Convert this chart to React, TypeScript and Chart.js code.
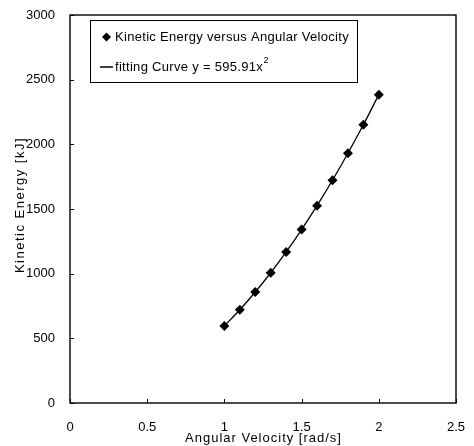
import React, { useEffect, useRef } from "react";
import { Chart, registerables } from "chart.js";

Chart.register(...registerables);

const angularVelocity = [1.0, 1.1, 1.2, 1.3, 1.4, 1.5, 1.6, 1.7, 1.8, 1.9, 2.0];
const kineticEnergy = [596, 721, 858, 1007, 1168, 1341, 1526, 1722, 1931, 2151, 2384];
const xTicks = [0, 0.5, 1, 1.5, 2, 2.5];
const yTicks = [0, 500, 1000, 1500, 2000, 2500, 3000];
const legendPoints = "Kinetic Energy versus Angular Velocity";
const legendCurve = "fitting Curve y = 595.91x";
const xTitle = "Angular Velocity [rad/s]";
const yTitle = "Kinetic Energy [kJ]";

const FONT = "'Liberation Sans', Arial, sans-serif";

const framePlugin = {
  id: "frameAndLegend",
  afterDraw(chart: any) {
    const { ctx, chartArea } = chart;
    const { left, right, top, bottom } = chartArea;
    const xs = chart.scales.x;
    const ys = chart.scales.y;
    ctx.save();
    ctx.strokeStyle = "#000";
    ctx.lineWidth = 1.4;
    ctx.strokeRect(left, top, right - left, bottom - top);
    ctx.lineWidth = 1;
    ctx.beginPath();
    xTicks.forEach((v) => {
      const px = Math.round(xs.getPixelForValue(v)) + 0.5;
      ctx.moveTo(px, bottom);
      ctx.lineTo(px, bottom - 4);
    });
    yTicks.forEach((v) => {
      const py = Math.round(ys.getPixelForValue(v)) + 0.5;
      ctx.moveTo(left, py);
      ctx.lineTo(left + 4, py);
    });
    ctx.stroke();

    // axis titles
    ctx.fillStyle = "#000";
    ctx.textBaseline = "middle";
    ctx.textAlign = "center";
    ctx.font = "13px " + FONT;
    (ctx as any).letterSpacing = "1px";
    ctx.fillText(xTitle, (left + right) / 2 + 0.5, 438);
    ctx.save();
    ctx.translate(20, 205);
    ctx.rotate(-Math.PI / 2);
    (ctx as any).letterSpacing = "1.5px";
    ctx.fillText(yTitle, 0, 0);
    ctx.restore();

    // legend box
    const bx = 90, by = 20, bw = 267, bh = 62;
    ctx.fillStyle = "#fff";
    ctx.fillRect(bx, by, bw, bh);
    ctx.lineWidth = 1;
    ctx.strokeRect(bx + 0.5, by + 0.5, bw, bh);
    const r1 = 37, r2 = 67;
    ctx.fillStyle = "#000";
    ctx.beginPath();
    ctx.moveTo(106.5, r1 - 4.5);
    ctx.lineTo(111, r1);
    ctx.lineTo(106.5, r1 + 4.5);
    ctx.lineTo(102, r1);
    ctx.closePath();
    ctx.fill();
    ctx.font = "13px " + FONT;
    (ctx as any).letterSpacing = "0.3px";
    ctx.textAlign = "left";
    ctx.fillText(legendPoints, 115, r1);
    ctx.lineWidth = 1.5;
    ctx.beginPath();
    ctx.moveTo(100, r2);
    ctx.lineTo(113, r2);
    ctx.stroke();
    ctx.fillText(legendCurve, 115, r2);
    const w = ctx.measureText(legendCurve).width;
    ctx.font = "9px " + FONT;
    (ctx as any).letterSpacing = "0px";
    ctx.fillText("2", 115 + w + 0.5, r2 - 6);
    ctx.restore();
  },
};

export default function App() {
  const ref = useRef<HTMLCanvasElement>(null);
  useEffect(() => {
    document.body.style.margin = "0";
    const canvas = ref.current!;
    const chart = new Chart(canvas, {
      type: "scatter",
      data: {
        datasets: [
          {
            label: "curve",
            data: angularVelocity.map((x, i) => ({ x, y: kineticEnergy[i] })),
            showLine: true,
            borderColor: "#000",
            borderWidth: 1.3,
            pointRadius: 0,
            tension: 0.3,
          },
          {
            label: "points",
            data: angularVelocity.map((x, i) => ({ x, y: kineticEnergy[i] })),
            showLine: false,
            pointStyle: "rectRot",
            pointRadius: 5,
            backgroundColor: "#000",
            borderColor: "#000",
            borderWidth: 0,
          },
        ],
      },
      options: {
        animation: false,
        responsive: false,
        devicePixelRatio: 1,
        layout: { padding: { left: 0, right: 18, top: 15, bottom: 0 } },
        plugins: { legend: { display: false }, tooltip: { enabled: false } },
        scales: {
          x: {
            type: "linear",
            min: 0,
            max: 2.5,
            afterBuildTicks: (s: any) => {
              s.ticks = xTicks.map((v) => ({ value: v }));
            },
            afterFit: (s: any) => {
              s.height = 43;
              s.paddingLeft = 0;
              s.paddingRight = 0;
            },
            grid: { display: false, drawTicks: false },
            border: { display: false },
            ticks: {
              color: "#000",
              padding: 17,
              maxRotation: 0,
              font: { family: FONT, size: 13 },
              callback: (v: any) => String(v),
            },
          },
          y: {
            type: "linear",
            min: 0,
            max: 3000,
            afterBuildTicks: (s: any) => {
              s.ticks = yTicks.map((v) => ({ value: v }));
            },
            afterFit: (s: any) => {
              s.width = 70;
              s.paddingTop = 0;
              s.paddingBottom = 0;
            },
            grid: { display: false, drawTicks: false },
            border: { display: false },
            ticks: {
              color: "#000",
              padding: 15,
              font: { family: FONT, size: 13 },
              callback: (v: any) => String(v),
            },
          },
        },
      },
      plugins: [framePlugin],
    });
    return () => chart.destroy();
  }, []);
  return (
    <div style={{ position: "absolute", left: 0, top: 0, width: 474, height: 446, background: "#fff" }}>
      <canvas ref={ref} width={474} height={446} style={{ width: 474, height: 446, display: "block" }} />
    </div>
  );
}
